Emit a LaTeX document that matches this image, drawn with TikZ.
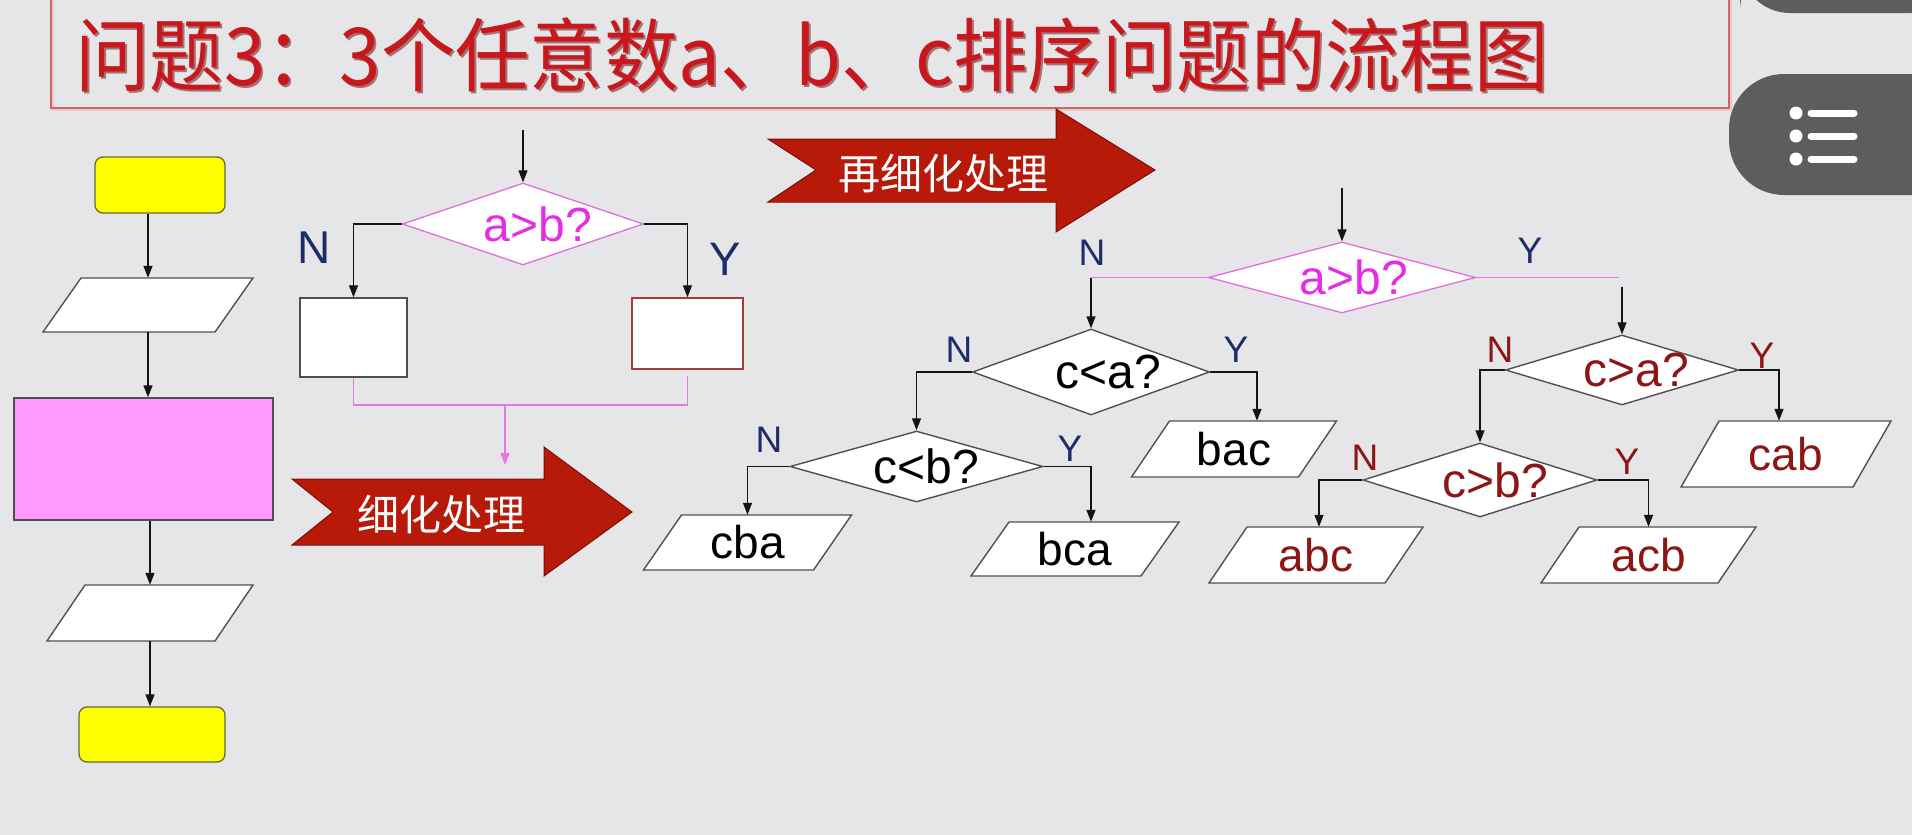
\documentclass[tikz,border=0pt]{standalone}
\usepackage{fontspec}
\setmainfont{Liberation Sans}
\newfontfamily\cjk{Noto Sans CJK SC}
\usetikzlibrary{shapes.geometric,arrows.meta}
\definecolor{bg}{RGB}{230,230,232}
\definecolor{lk}{RGB}{20,20,20}
\definecolor{dgray}{RGB}{80,80,80}
\definecolor{pinkln}{RGB}{228,120,228}
\definecolor{mborder}{RGB}{222,110,222}
\definecolor{mtxt}{RGB}{228,45,228}
\definecolor{navy}{RGB}{30,44,105}
\definecolor{dred}{RGB}{140,22,22}
\definecolor{rborder}{RGB}{165,60,60}
\definecolor{arrred}{RGB}{184,26,10}
\definecolor{arredge}{RGB}{125,15,8}
\definecolor{titlered}{RGB}{200,24,30}
\definecolor{titleshadow}{RGB}{120,40,40}
\definecolor{tboxline}{RGB}{205,100,105}
\definecolor{ui}{RGB}{93,93,93}
\definecolor{yel}{RGB}{255,255,0}
\definecolor{yelline}{RGB}{105,105,60}
\definecolor{procpink}{RGB}{255,153,255}
\newcommand\fs[1]{\fontsize{#1}{#1}\selectfont}
\newcommand\paral[7][]{%
  \draw[iobox] (#3-#5/2+19,#4-#6/2) -- ++(#5,0) -- ++(-38,#6) -- ++(-#5,0) -- cycle;
  \node[iotext,minimum width=#5,minimum height=#6,#1] (#2) at (#3,#4) {#7};}
\newcommand\titletext{问题3：3个任意数a、b、c排序问题的流程图}
\begin{document}
\begin{tikzpicture}[x=1pt,y=-1pt,
  arr/.style={draw=lk, line width=1.3pt, -{Triangle[length=12pt,width=9pt]}},
  pk/.style={draw=pinkln, line width=1.4pt},
  dia/.style={diamond, draw=dgray, fill=white, line width=1.4pt, inner sep=0pt},
  mdia/.style={diamond, draw=mborder, fill=white, line width=1.3pt, inner sep=0pt},
  iobox/.style={draw=dgray, fill=white, line width=1.4pt},
  iotext/.style={inner sep=0pt, font=\fs{46}},
  yn/.style={font=\fs{37}, text=navy, inner sep=0pt},
  rn/.style={font=\fs{37}, text=dred, inner sep=0pt},
  mtext/.style={font=\fs{48}, text=mtxt, inner sep=0pt},
  btext/.style={font=\fs{48}, text=black, inner sep=0pt},
  rtext/.style={font=\fs{48}, text=dred, inner sep=0pt},
  termbox/.style={rectangle, rounded corners=8pt, fill=yel, draw=yelline, line width=1.3pt, inner sep=0pt},
  plainbox/.style={rectangle, fill=white, draw=dgray, line width=1.4pt, inner sep=0pt},
  bigarrow/.style={fill=arrred, draw=arredge, line width=1pt},
  arrtext/.style={font=\cjk\fs{42}, text=white, inner sep=0pt},
  ttl/.style={font=\cjk\fs{80}, inner sep=0pt}
]
\path[use as bounding box, fill=bg] (0,0) rectangle (1912,835);

% title box
\draw[draw=tboxline!35, line width=2pt] (53,-5) rectangle (1731,110);
\draw[draw=tboxline, line width=1.5pt] (51,-5) rectangle (1729,108);
\node[ttl, text=titleshadow, opacity=0.6] (titlesh) at (814,57) {\scalebox{0.93}[1]{\titletext}};
\node[ttl, text=titlered] (title) at (812,55) {\scalebox{0.93}[1]{\titletext}};

% UI overlay
\fill[ui, rounded corners=50pt] (1740,-40) rectangle (1960,13);
\fill[ui, rounded corners=55pt] (1729,74) rectangle (1970,195);
\foreach \yy in {113,136,159}{
  \fill[white] (1796,\yy) circle (6.5pt);
  \draw[white, line width=7pt, line cap=round] (1811,\yy) -- (1854,\yy);
}

% left flowchart
\node[termbox, minimum width=130, minimum height=56] (start) at (160,185) {};
\paral{in1}{148}{305}{172}{54}{}
\node[plainbox, fill=procpink, minimum width=259, minimum height=122] (proc) at (143.5,459) {};
\paral{out1}{150}{613}{168}{56}{}
\node[termbox, minimum width=146, minimum height=55] (stop) at (152,734.5) {};
\draw[arr] (start.south -| in1.north) -- (in1.north);
\draw[arr] (in1.south) -- (in1.south |- proc.north);
\draw[arr] (out1.north |- proc.south) -- (out1.north);
\draw[arr] (out1.south) -- (out1.south |- stop.north);

% middle flowchart
\coordinate (m-in) at (523,130);
\node[mdia, minimum width=241, minimum height=82, label={[mtext,xshift=15pt]center:a>b?}] (d1) at (523,224) {};
\draw[arr] (m-in) -- (d1.north);
\node[plainbox, minimum width=107, minimum height=79] (b1) at (353.5,337.5) {};
\node[plainbox, draw=rborder, minimum width=111, minimum height=71] (b2) at (687.5,333.5) {};
\draw[arr] (d1.west) -| (b1.north);
\draw[arr] (d1.east) -| (b2.north);
\node[yn, font=\fs{46}] (n1) at (314,248) {N};
\node[yn, font=\fs{47}] (y1) at (725,259) {Y};
\coordinate (mj) at (505,405);
\coordinate (mjend) at (505,465);
\draw[pk] (b1.south) |- (mj) -| ([yshift=-6pt]b2.south);
\draw[pk, -{Triangle[length=12pt,width=9pt]}] (mj) -- (mjend);

% red arrows
\path[bigarrow] (292,479) -- (544,479) -- (544,447) -- (632,512) -- (544,576) -- (544,545) -- (292,545) -- (333,512) -- cycle;
\node[arrtext] (xh1) at (441,514) {细化处理};
\path[bigarrow] (768,139) -- (1056,139) -- (1056,109) -- (1155,170) -- (1056,232) -- (1056,202) -- (768,202) -- (816,170) -- cycle;
\node[arrtext] (xh2) at (943,173) {再细化处理};

% right flowchart
\coordinate (r-in) at (1342,188);
\node[mdia, minimum width=267, minimum height=71, label={[mtext,xshift=12pt]center:a>b?}] (d2) at (1342,277.5) {};
\draw[arr] (r-in) -- (d2.north);
\node[dia, minimum width=237, minimum height=86, label={[btext,xshift=17pt]center:c<a?}] (d3) at (1091,372) {};
\node[dia, minimum width=233, minimum height=70, label={[rtext,xshift=14pt]center:c>a?}] (d5) at (1622,370) {};
\coordinate (l-j) at (d2.west -| d3.north);
\coordinate (r-j) at (d2.east -| d5.north);
\draw[pk] (d2.west) -- (l-j);
\draw[arr] (l-j) -- (d3.north);
\draw[pk] (d2.east) -- ([xshift=-3pt]r-j);
\draw[arr] ([yshift=-9pt]r-j) -- (d5.north);
\node[yn] (n2) at (1092,253) {N};
\node[yn] (y2) at (1530,251) {Y};

\node[dia, minimum width=253, minimum height=71, label={[btext,xshift=10pt]center:c<b?}] (d4) at (916.5,466.5) {};
\paral{bac}{1234}{449}{167}{56}{bac}
\draw[arr] (d3.west) -| (d4.north);
\draw[arr] (d3.east) -| ([xshift=23pt]bac.north);
\node[yn] (n3) at (959,350) {N};
\node[yn] (y3) at (1236,350) {Y};

\paral{cba}{747.5}{542.5}{170}{55}{cba}
\paral{bca}{1075}{549}{170}{54}{bca}
\draw[arr] (d4.west) -| (cba.north);
\draw[arr] (d4.east) -| ([xshift=16pt]bca.north);
\node[yn] (n4) at (769,440) {N};
\node[yn] (y4) at (1070,449) {Y};

\node[dia, minimum width=234, minimum height=74, label={[rtext,xshift=15pt]center:c>b?}] (d6) at (1480,480) {};
\paral[text=dred]{cab}{1786}{454}{172}{66}{cab}
\draw[arr] (d5.west) -| (d6.north);
\draw[arr] (d5.east) -| ([xshift=-7pt]cab.north);
\node[rn] (n5) at (1500,350) {N};
\node[rn] (y5) at (1762,356) {Y};

\paral[text=dred]{abc}{1316}{555}{176}{56}{abc}
\paral[text=dred]{acb}{1648.5}{555}{177}{56}{acb}
\draw[arr] (d6.west) -| ([xshift=3pt]abc.north);
\draw[arr] (d6.east) -| (acb.north);
\node[rn] (n6) at (1365,458) {N};
\node[rn] (y6) at (1627,462) {Y};
\end{tikzpicture}
\end{document}
